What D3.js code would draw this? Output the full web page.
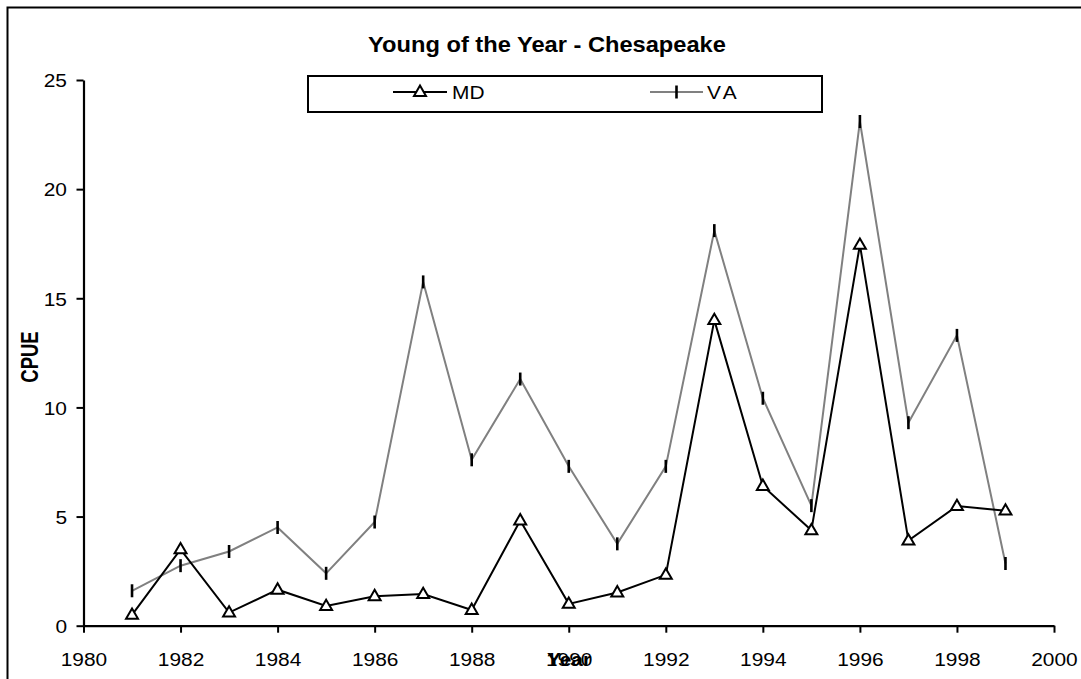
<!DOCTYPE html>
<html>
<head>
<meta charset="utf-8">
<script src="https://cdn.jsdelivr.net/npm/d3@7"></script>
<style>
  html, body { margin: 0; padding: 0; background: #fff; }
  svg { display: block; font-family: "Liberation Sans", Arial, sans-serif; }
</style>
</head>
<body>
<svg id="chart" width="1081" height="679"></svg>
<script>
const years = [1981,1982,1983,1984,1985,1986,1987,1988,1989,1990,1991,1992,1993,1994,1995,1996,1997,1998,1999];
const mdValues = [0.5,3.5,0.6,1.65,0.9,1.35,1.45,0.72,4.82,1.0,1.52,2.33,14.0,6.4,4.37,17.45,3.9,5.48,5.27];
const vaValues = [1.6,2.75,3.4,4.5,2.4,4.75,15.75,7.6,11.3,7.3,3.75,7.3,18.1,10.42,5.5,23.1,9.3,13.3,2.85];
const xTicks = [1980,1982,1984,1986,1988,1990,1992,1994,1996,1998,2000];
const yTicks = [0,5,10,15,20,25];
const seriesNames = ["MD","VA"];
const titleText = "Young of the Year - Chesapeake";
const xTitle = "Year";
const yTitle = "CPUE";

const svg = d3.select("#chart");

// outer frame (cut off at right/bottom)
svg.append("rect").attr("x",7.5).attr("y",7.5).attr("width",1100).attr("height",700)
  .attr("fill","#fff").attr("stroke","#000").attr("stroke-width",2);

const x = d3.scaleLinear().domain([1980,2000]).range([83.5,1054]);
const y = d3.scaleLinear().domain([0,25]).range([625.7,80]);

// y axis
const yAxis = svg.append("g").attr("transform","translate(83.5,0)")
  .call(d3.axisLeft(y).tickValues(yTicks).tickSizeInner(7).tickSizeOuter(0).tickPadding(8));
// x axis
const xAxis = svg.append("g").attr("transform","translate(0,625.7)")
  .call(d3.axisBottom(x).tickValues(xTicks).tickFormat(d3.format("d")).tickSizeInner(7).tickSizeOuter(0).tickPadding(20));
[yAxis,xAxis].forEach(a => {
  a.selectAll("path.domain").attr("stroke","#000").attr("stroke-width",2.2);
  a.selectAll(".tick line").attr("stroke","#000").attr("stroke-width",2);
  a.selectAll("text").attr("fill","#000").style("font-size","19px")
    .attr("font-family","Liberation Sans, Arial, sans-serif").attr("transform","scale(1.1,1)");
});
yAxis.selectAll("text").attr("dy","0.36em");
xAxis.selectAll("text").attr("dy","0.71em");

// lines
const line = vals => d3.line().x((d,i)=>x(years[i])).y(d=>y(d))(vals);
svg.append("path").attr("d",line(vaValues)).attr("fill","none").attr("stroke","#808080").attr("stroke-width",2);
svg.append("path").attr("d",line(mdValues)).attr("fill","none").attr("stroke","#000").attr("stroke-width",2);

// VA markers (vertical bars)
svg.append("g").selectAll("line").data(vaValues).join("line")
  .attr("x1",(d,i)=>x(years[i])).attr("x2",(d,i)=>x(years[i]))
  .attr("y1",d=>y(d)-6.5).attr("y2",d=>y(d)+6.5)
  .attr("stroke","#000").attr("stroke-width",2.6);

// MD markers (triangles)
const tri = d3.symbol().type(d3.symbolTriangle).size(62);
svg.append("g").selectAll("path").data(mdValues).join("path")
  .attr("d",tri)
  .attr("transform",(d,i)=>`translate(${x(years[i])},${y(d)+0.5})`)
  .attr("fill","#fff").attr("stroke","#000").attr("stroke-width",2);

// title
svg.append("text").attr("transform","translate(547,52) scale(1.1,1)").attr("text-anchor","middle")
  .style("font-size","21.5px").style("font-weight","bold").text(titleText);

// axis titles
svg.append("text").attr("transform","translate(569,666) scale(1.1,1)").attr("text-anchor","middle")
  .style("font-size","19px").style("font-weight","bold").text(xTitle);
svg.append("text").attr("transform","translate(38,357) rotate(-90) scale(1,1.25)").attr("text-anchor","middle")
  .style("font-size","18.5px").style("font-weight","bold").text(yTitle);

// legend
const lg = svg.append("g");
lg.append("rect").attr("x",308).attr("y",76).attr("width",514).attr("height",36)
  .attr("fill","#fff").attr("stroke","#000").attr("stroke-width",2);
const legendItems = [
  {name: seriesNames[0], x0: 393, x1: 447, color: "#000", tx: 452},
  {name: seriesNames[1], x0: 650, x1: 703, color: "#808080", tx: 707}
];
legendItems.forEach((it,k) => {
  lg.append("line").attr("x1",it.x0).attr("x2",it.x1).attr("y1",92).attr("y2",92)
    .attr("stroke",it.color).attr("stroke-width",2);
  const cx = (it.x0+it.x1)/2;
  if (k===0) {
    lg.append("path").attr("d",tri).attr("transform",`translate(${cx},92.5)`)
      .attr("fill","#fff").attr("stroke","#000").attr("stroke-width",2);
  } else {
    lg.append("line").attr("x1",cx).attr("x2",cx).attr("y1",85.5).attr("y2",98.5)
      .attr("stroke","#000").attr("stroke-width",2.6);
  }
  lg.append("text").attr("transform",`translate(${it.tx},99) scale(1.1,1)`).style("font-size","19px")
    .style("letter-spacing", k===1 ? "3px" : "0px").text(it.name);
});
</script>
</body>
</html>
